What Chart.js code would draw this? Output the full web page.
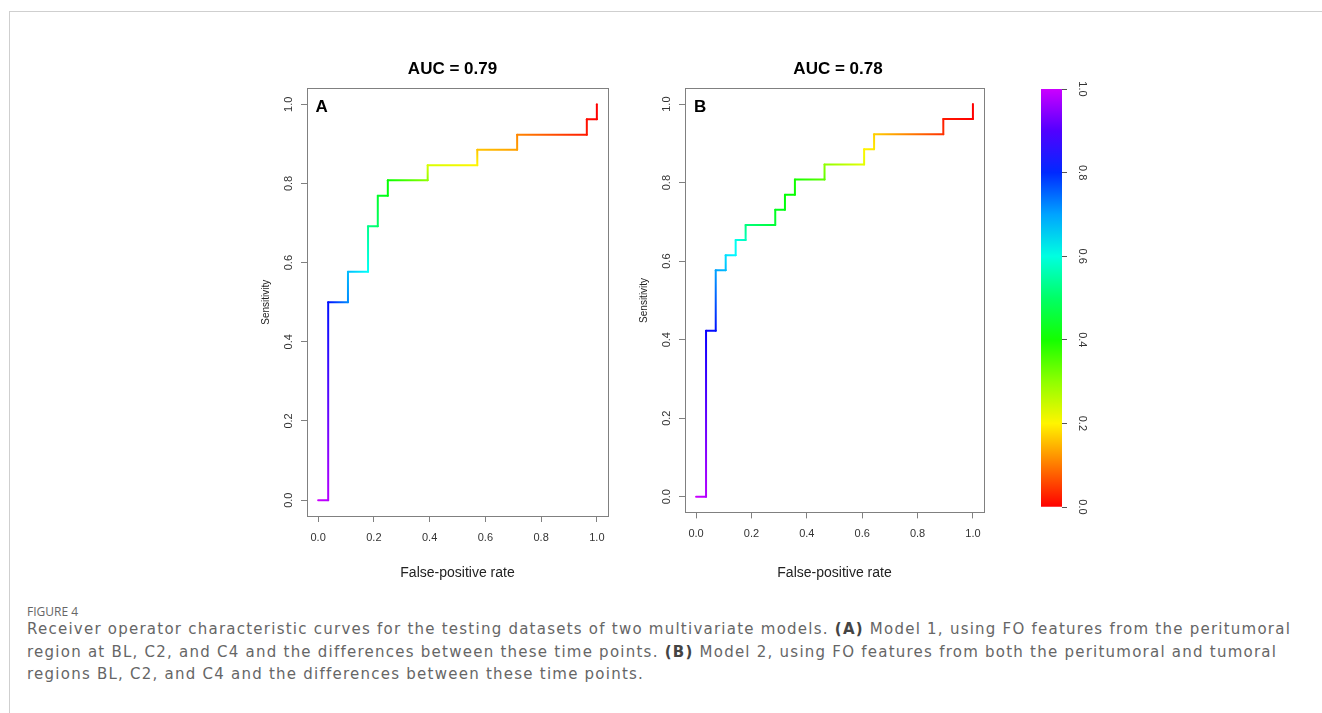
<!DOCTYPE html>
<html>
<head>
<meta charset="utf-8">
<script src="https://cdn.jsdelivr.net/npm/chart.js@4.4.0/dist/chart.umd.min.js"></script>
<style>
html,body{margin:0;padding:0;background:#fff;width:1322px;height:713px;overflow:hidden;}
.frame{position:absolute;left:9px;top:11px;width:1330px;height:720px;border-left:1px solid #cfcfcf;border-top:1px solid #cfcfcf;}
canvas.c{position:absolute;pointer-events:none;}
.tag{position:absolute;font-family:"Liberation Sans",Arial,sans-serif;font-weight:bold;font-size:17px;line-height:17px;color:#000;}
#cap{position:absolute;left:27px;top:602px;color:#666;white-space:nowrap;}
#cap .fig{font-family:"Open Sans",sans-serif;font-size:12px;line-height:20px;}
#cap .txt{font-family:"DejaVu Sans",sans-serif;font-size:15px;line-height:22.7px;margin-top:-4px;letter-spacing:1.24px;}
#cap b{color:#444;}
</style>
</head>
<body>
<div class="frame"></div>
<canvas id="cA" class="c" width="425" height="550" style="left:240px;top:50px"></canvas>
<canvas id="cB" class="c" width="440" height="550" style="left:618px;top:50px"></canvas>
<canvas id="cBar" class="c" width="60" height="550" style="left:1041px;top:50px"></canvas>
<div class="tag" style="left:315.5px;top:98px">A</div>
<div class="tag" style="left:694px;top:97.5px">B</div>
<div id="cap">
<div class="fig">FIGURE 4</div>
<div class="txt">Receiver operator characteristic curves for the testing datasets of two multivariate models. <b>(A)</b> Model 1, using FO features from the peritumoral<br>region at BL, C2, and C4 and the differences between these time points. <b>(B)</b> Model 2, using FO features from both the peritumoral and tumoral<br>regions BL, C2, and C4 and the differences between these time points.</div>
</div>
<script>
// ---- data ----
const titleA = 'AUC = 0.79';
const titleB = 'AUC = 0.78';
const xTitle = 'False-positive rate';
const yTitle = 'Sensitivity';
const axisTicks = [0, 0.2, 0.4, 0.6, 0.8, 1.0];

// Model 1 (panel A): ROC staircase vertices
const fprA = [0, 0.036, 0.036, 0.107, 0.107, 0.179, 0.179, 0.214, 0.214, 0.25, 0.25, 0.393, 0.393, 0.571, 0.571, 0.714, 0.714, 0.964, 0.964, 1.0, 1.0];
const tprA = [0, 0, 0.5, 0.5, 0.577, 0.577, 0.692, 0.692, 0.769, 0.769, 0.808, 0.808, 0.846, 0.846, 0.885, 0.885, 0.923, 0.923, 0.962, 0.962, 1.0];
const cutA = [1.0, 0.98, 0.82, 0.72, 0.68, 0.62, 0.53, 0.50, 0.45, 0.43, 0.41, 0.30, 0.24, 0.20, 0.16, 0.13, 0.11, 0.02, 0.01, 0.0, 0.0];

// Model 2 (panel B)
const fprB = [0, 0.036, 0.036, 0.071, 0.071, 0.107, 0.107, 0.143, 0.143, 0.179, 0.179, 0.286, 0.286, 0.321, 0.321, 0.357, 0.357, 0.464, 0.464, 0.607, 0.607, 0.643, 0.643, 0.893, 0.893, 1.0, 1.0];
const tprB = [0, 0, 0.423, 0.423, 0.577, 0.577, 0.615, 0.615, 0.654, 0.654, 0.692, 0.692, 0.731, 0.731, 0.769, 0.769, 0.808, 0.808, 0.846, 0.846, 0.885, 0.885, 0.923, 0.923, 0.962, 0.962, 1.0];
const cutB = [1.0, 0.98, 0.84, 0.82, 0.70, 0.68, 0.65, 0.63, 0.61, 0.57, 0.52, 0.46, 0.44, 0.43, 0.42, 0.41, 0.40, 0.34, 0.30, 0.23, 0.20, 0.19, 0.17, 0.04, 0.02, 0.0, 0.0];

// colour bar (cutoff scale)
const barRange = [0, 1];
const barStops = [0, 0.1, 0.2, 0.3, 0.4, 0.5, 0.6, 0.7, 0.8, 0.9, 1.0];

// ---- helpers ----
const FONT = '"Liberation Sans", Arial, sans-serif';
function cutColor(c){ return 'hsl(' + (c * 288).toFixed(1) + ',100%,50%)'; }
function segGrad(ctx, cut){
  const g = ctx.chart.ctx.createLinearGradient(ctx.p0.x, ctx.p0.y, ctx.p1.x, ctx.p1.y);
  g.addColorStop(0, cutColor(cut[ctx.p0DataIndex]));
  g.addColorStop(1, cutColor(cut[ctx.p1DataIndex]));
  return g;
}
const setTicks = s => { s.ticks = axisTicks.map(v => ({value: v})); };
const fmt = v => Number(v).toFixed(1);

function rocChart(id, fpr, tpr, cut, title, rightW, xAxisH){
  const pts = fpr.map((x, i) => ({x: x, y: tpr[i]}));
  return new Chart(document.getElementById(id), {
    type: 'scatter',
    data: {datasets: [{
      data: pts, showLine: true, pointRadius: 0, pointHoverRadius: 0,
      borderWidth: 2, borderColor: '#000', borderCapStyle: 'round', borderJoinStyle: 'round',
      tension: 0, fill: false,
      segment: {borderColor: c => segGrad(c, cut)}
    }]},
    options: {
      responsive: false, animation: false, events: [],
      layout: {padding: 0},
      plugins: {
        legend: {display: false}, tooltip: {enabled: false},
        title: {display: true, text: title, color: '#000',
          font: {family: FONT, size: 17, weight: 'bold'}, padding: {top: 9, bottom: 9}}
      },
      scales: {
        x: {type: 'linear', position: 'bottom', min: -0.04, max: 1.04,
          afterBuildTicks: setTicks,
          ticks: {callback: fmt, color: '#333', font: {family: FONT, size: 11}, padding: 9, maxRotation: 0, autoSkip: false},
          grid: {drawOnChartArea: false, drawTicks: true, tickLength: 6, color: '#808080'},
          border: {display: true, color: '#808080', width: 1},
          title: {display: true, text: xTitle, color: '#222', font: {family: FONT, size: 14}, padding: {top: 0, bottom: 18}},
          afterFit: s => { s.height = xAxisH; }
        },
        y: {type: 'linear', position: 'left', min: -0.04, max: 1.04,
          afterBuildTicks: setTicks,
          ticks: {callback: fmt, color: '#333', font: {family: FONT, size: 11}, padding: 4,
            minRotation: 90, maxRotation: 90, crossAlign: 'center', autoSkip: false},
          grid: {drawOnChartArea: false, drawTicks: true, tickLength: 6, color: '#808080'},
          border: {display: true, color: '#808080', width: 1},
          title: {display: true, text: yTitle, color: '#222', font: {family: FONT, size: 10}, padding: {top: 20, bottom: 0}},
          afterFit: s => { s.width = 67; }
        },
        x2: {type: 'linear', position: 'top', min: -0.04, max: 1.04,
          ticks: {display: false}, grid: {display: false},
          border: {display: true, color: '#808080', width: 1},
          afterFit: s => { s.height = 0; }
        },
        y2: {type: 'linear', position: 'right', min: -0.04, max: 1.04,
          ticks: {display: false}, grid: {display: false},
          border: {display: true, color: '#808080', width: 1},
          afterFit: s => { s.width = rightW; }
        }
      }
    }
  });
}

rocChart('cA', fprA, tprA, cutA, titleA, 57, 84);
rocChart('cB', fprB, tprB, cutB, titleB, 74, 87.6);

new Chart(document.getElementById('cBar'), {
  type: 'bar',
  data: {labels: ['cutoff'], datasets: [{
    data: [barRange],
    borderWidth: 0, barPercentage: 1, categoryPercentage: 1,
    backgroundColor: ctx => {
      const a = ctx.chart.chartArea;
      if (!a) return 'rgba(0,0,0,0)';
      const g = ctx.chart.ctx.createLinearGradient(0, a.bottom, 0, a.top);
      barStops.forEach(s => g.addColorStop(s, cutColor(s)));
      return g;
    }
  }]},
  options: {
    responsive: false, animation: false, events: [],
    layout: {padding: {left: 0, right: 0, top: 39, bottom: 93}},
    plugins: {legend: {display: false}, tooltip: {enabled: false}},
    scales: {
      x: {display: false},
      y: {type: 'linear', position: 'right', min: 0, max: 1,
        afterBuildTicks: setTicks,
        ticks: {callback: fmt, color: '#333', font: {family: FONT, size: 11}, padding: 7,
          minRotation: -90, maxRotation: -90, crossAlign: 'center', autoSkip: false},
        grid: {drawOnChartArea: false, drawTicks: true, tickLength: 5, color: '#555'},
        border: {display: false},
        afterFit: s => { s.width = 39; }
      }
    }
  }
});
</script>
</body>
</html>
